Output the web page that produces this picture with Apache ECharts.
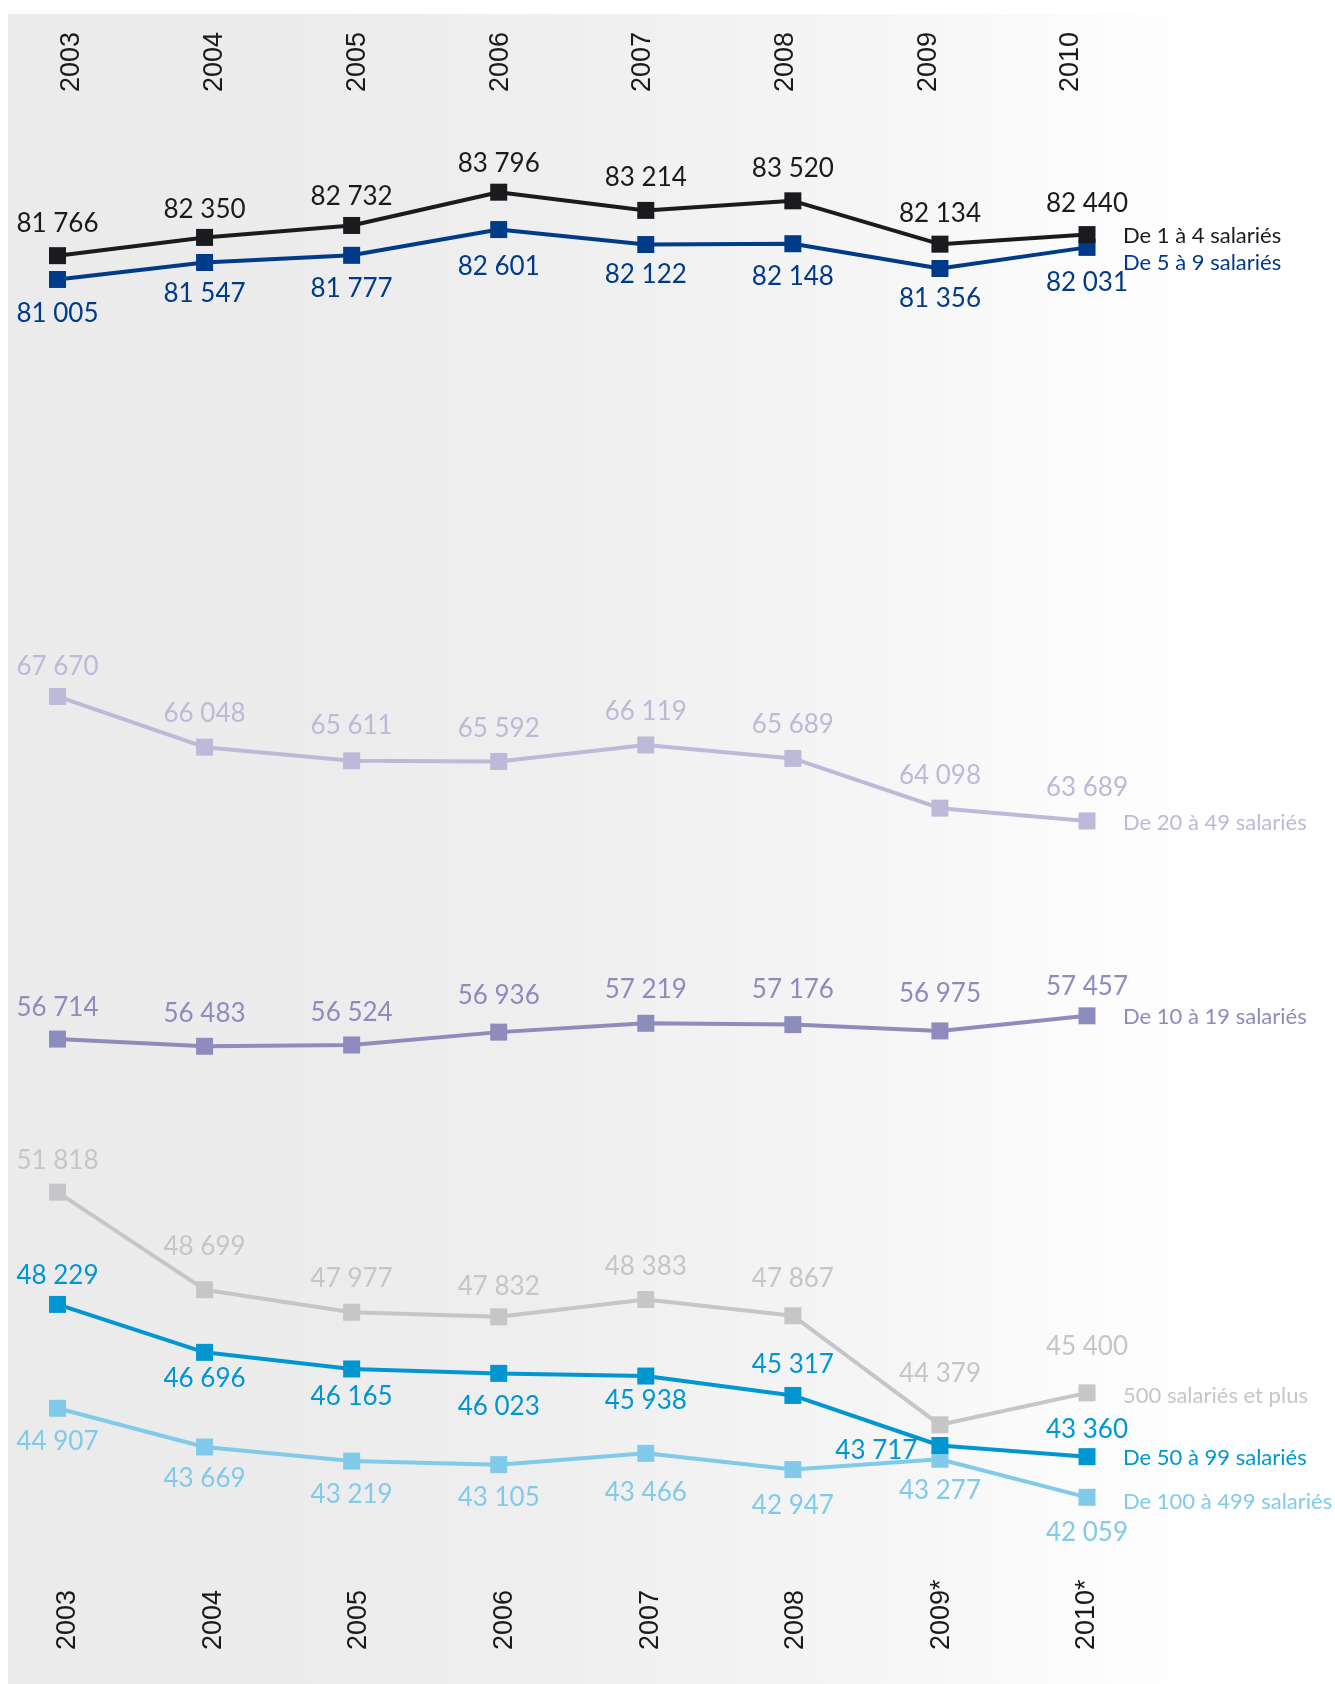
<!DOCTYPE html>
<html><head><meta charset="utf-8">
<script src="https://cdn.jsdelivr.net/npm/echarts@6/dist/echarts.min.js"></script>
<style>html,body{margin:0;padding:0;background:#fff}#c{width:1335px;height:1684px}</style>
</head><body><div id="c"></div>
<script>
// ---- data ----
const years = ['2003','2004','2005','2006','2007','2008','2009','2010'];
const yearsBottom = ['2003','2004','2005','2006','2007','2008','2009*','2010*'];
const v1to4 = [81766,82350,82732,83796,83214,83520,82134,82440];
const v5to9 = [81005,81547,81777,82601,82122,82148,81356,82031];
const v20to49 = [67670,66048,65611,65592,66119,65689,64098,63689];
const v10to19 = [56714,56483,56524,56936,57219,57176,56975,57457];
const v500plus = [51818,48699,47977,47832,48383,47867,44379,45400];
const v50to99 = [48229,46696,46165,46023,45938,45317,43717,43360];
const v100to499 = [44907,43669,43219,43105,43466,42947,43277,42059];

// ---- label layout (distance of label centre from point, + above / - below) ----
const gap1to4 = [33.5,29.8,30,30,34.7,33.3,32.3,32];
const gap5to9 = [-32.7,-29.8,-31.5,-35.7,-29,-31.7,-28.9,-33.8];
const gap20to49 = [31.2,34.8,36.4,34.5,34.5,35,34.5,34.5];
const gap10to19 = [33.3,34.4,34.4,37.6,35.4,36.5,38.7,31.1];
const gap500plus = [33.3,45,35.4,31.7,34,38.4,52.8,48.2];
const gap50to99 = [30,-25.1,-26.3,-31.7,-23.3,32.4,'L',28.5];
const gap100to499 = [-32,-30.3,-31.7,-31.7,-37.4,-35,-29.4,-33.5];

const fmt = v => String(v).replace(/\B(?=(\d{3})+(?!\d))/g, ' ');
const LABEL_FONT = 'Lato, "Open Sans", sans-serif';
const YEAR_FONT = '"Liberation Sans", Arial, sans-serif';

function mk(name, data, color, gaps, endOffset) {
  return {
    type: 'line', name: name, xAxisIndex: 0, yAxisIndex: 0,
    data: data.map(function (v, i) {
      const g = gaps[i];
      let lab;
      if (g === 'L') lab = { position: 'left', distance: 14, offset: [0, 5] };
      else if (g > 0) lab = { position: 'top', distance: g - 23 };
      else lab = { position: 'bottom', distance: -g - 20 };
      return { value: v, label: lab };
    }),
    symbol: 'rect', symbolSize: 17,
    lineStyle: { width: 4, color: color },
    itemStyle: { color: color },
    label: { show: true, color: color, fontFamily: LABEL_FONT, fontSize: 26, formatter: function (p) { return fmt(p.value); } },
    endLabel: { show: true, formatter: name, color: color, fontFamily: LABEL_FONT, fontSize: 22, distance: 36, offset: endOffset },
    emphasis: { disabled: true },
    animation: false
  };
}

const chart = echarts.init(document.getElementById('c'), null, { renderer: 'canvas' });
const hiddenY = function (g) { return { type: 'value', gridIndex: g, show: false }; };
const yearLabel = { interval: 0, rotate: 90, margin: 0, align: 'left', verticalAlign: 'middle', color: '#1a1a1a', fontFamily: YEAR_FONT, fontSize: 27 };
chart.setOption({
  animation: false,
  graphic: [{
    type: 'rect', z: -10, silent: true,
    shape: { x: 8, y: 14, width: 1327, height: 1670 },
    style: { fill: new echarts.graphic.LinearGradient(0, 0, 1, 0, [
      { offset: 0, color: '#ebebeb' }, { offset: 0.22, color: '#ececec' },
      { offset: 0.42, color: '#efefef' }, { offset: 0.64, color: '#f5f5f5' },
      { offset: 0.82, color: '#fcfcfc' }, { offset: 0.9, color: '#ffffff' }, { offset: 1, color: '#ffffff' }]) }
  }],
  grid: [
    { left: 57.5, right: 248, top: 92, bottom: 91 },
    { left: 72, right: 264, top: 92, height: 10 },
    { left: 67.7, right: 248, top: 1600, bottom: 34 }
  ],
  xAxis: [
    { type: 'category', gridIndex: 0, data: years, boundaryGap: false, show: false },
    { type: 'category', gridIndex: 1, position: 'top', data: years, boundaryGap: false,
      axisLine: { show: false }, axisTick: { show: false }, axisLabel: yearLabel },
    { type: 'category', gridIndex: 2, position: 'bottom', data: yearsBottom, boundaryGap: false,
      axisLine: { show: false }, axisTick: { show: false }, axisLabel: yearLabel }
  ],
  yAxis: [
    { type: 'value', gridIndex: 0, min: 39000, max: 87000, show: false },
    hiddenY(1), hiddenY(2)
  ],
  series: [
    mk('De 5 à 9 salariés', v5to9, '#003b89', gap5to9, [0, 16]),
    mk('De 1 à 4 salariés', v1to4, '#1b1a1f', gap1to4, [0, 1.5]),
    mk('De 20 à 49 salariés', v20to49, '#bcbad8', gap20to49, [0, 1.5]),
    mk('De 10 à 19 salariés', v10to19, '#8e8bbd', gap10to19, [0, 1.5]),
    mk('500 salariés et plus', v500plus, '#c6c6c8', gap500plus, [0, 3]),
    mk('De 100 à 499 salariés', v100to499, '#82cae9', gap100to499, [0, 5]),
    mk('De 50 à 99 salariés', v50to99, '#0096d2', gap50to99, [0, 1])
  ]
});
</script></body></html>
